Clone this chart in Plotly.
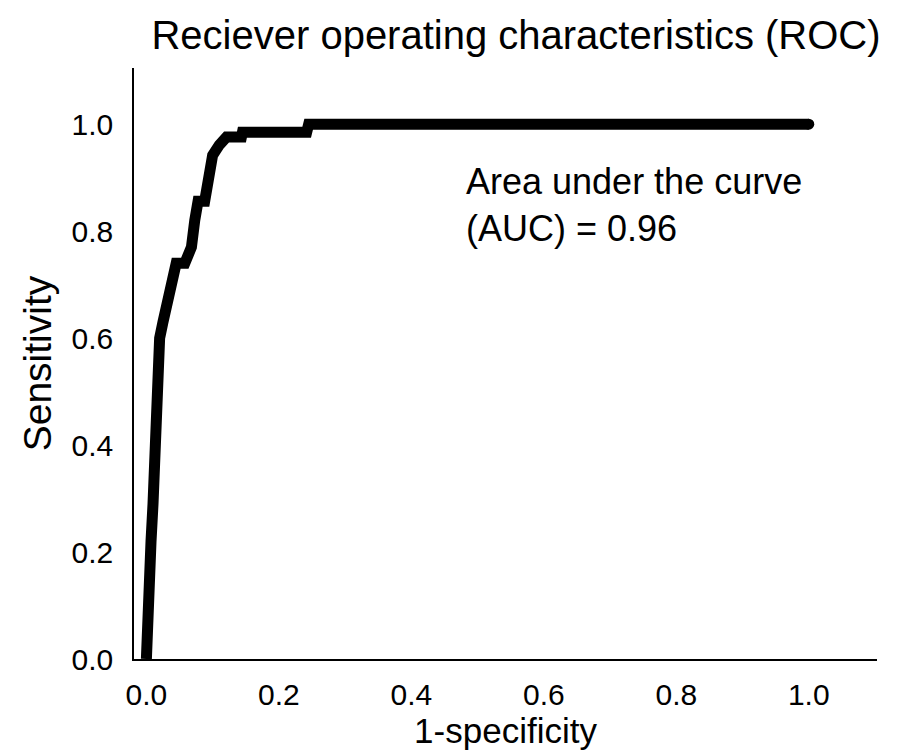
import plotly.graph_objects as go

# ROC curve values
fpr = [0.0, 0.0005, 0.004, 0.007, 0.010, 0.0125, 0.0166, 0.020, 0.025, 0.030, 0.038,
       0.045, 0.058, 0.063, 0.068, 0.073, 0.078, 0.088, 0.093, 0.100, 0.110, 0.121,
       0.1435, 0.145, 0.242, 0.245, 1.0]
tpr = [0.0, 0.01, 0.138, 0.22, 0.29, 0.414, 0.53, 0.6, 0.63, 0.654, 0.69,
       0.74, 0.74, 0.755, 0.77, 0.82, 0.856, 0.856, 0.905, 0.942, 0.961, 0.976,
       0.976, 0.985, 0.985, 1.0, 1.0]

tick_vals = [0.0, 0.2, 0.4, 0.6, 0.8, 1.0]
tick_text = ["0.0", "0.2", "0.4", "0.6", "0.8", "1.0"]

title_text = "Reciever operating characteristics (ROC)"
x_title = "1-specificity"
y_title = "Sensitivity"
auc_text = "Area under the curve<br>(AUC) = 0.96"

FONT = "Liberation Sans, Arial, sans-serif"

fig = go.Figure()
fig.add_trace(go.Scatter(x=fpr, y=tpr, mode="lines",
                         line=dict(color="black", width=11), showlegend=False))
# round cap at the end of the curve
fig.add_trace(go.Scatter(x=[fpr[-1]], y=[tpr[-1]], mode="markers",
                         marker=dict(color="black", size=11), showlegend=False))

fig.update_layout(
    width=903, height=751,
    margin=dict(l=134, r=26, t=68, b=86),
    paper_bgcolor="white", plot_bgcolor="white",
    font=dict(family=FONT, color="black"),
    title=dict(text=title_text, x=516/903, xanchor="center", xref="container",
               y=1 - 35/751, yanchor="middle", yref="container",
               font=dict(size=40, color="black", family=FONT)),
    xaxis=dict(range=[-0.0187, 1.103], tickvals=tick_vals, ticktext=tick_text,
               showgrid=False, zeroline=False, showline=True, linecolor="black",
               linewidth=1.5, ticks="", ticklabelstandoff=8,
               tickfont=dict(size=30, family=FONT, color="black"),
               title=dict(text=x_title, font=dict(size=35, family=FONT, color="black"),
                          standoff=4)),
    yaxis=dict(range=[0, 1.105], tickvals=tick_vals, ticktext=tick_text,
               showgrid=False, zeroline=False, showline=True, linecolor="black",
               linewidth=1.5, ticks="", ticklabelstandoff=13,
               tickfont=dict(size=30, family=FONT, color="black"),
               title=dict(text=y_title, font=dict(size=39, family=FONT, color="black"),
                          standoff=8)),
    annotations=[dict(text=auc_text, x=0.479, y=0.935, xref="x", yref="y",
                      xanchor="left", yanchor="top", align="left", showarrow=False,
                      font=dict(size=36, family=FONT, color="black"))],
)

fig.write_html("out.html")
